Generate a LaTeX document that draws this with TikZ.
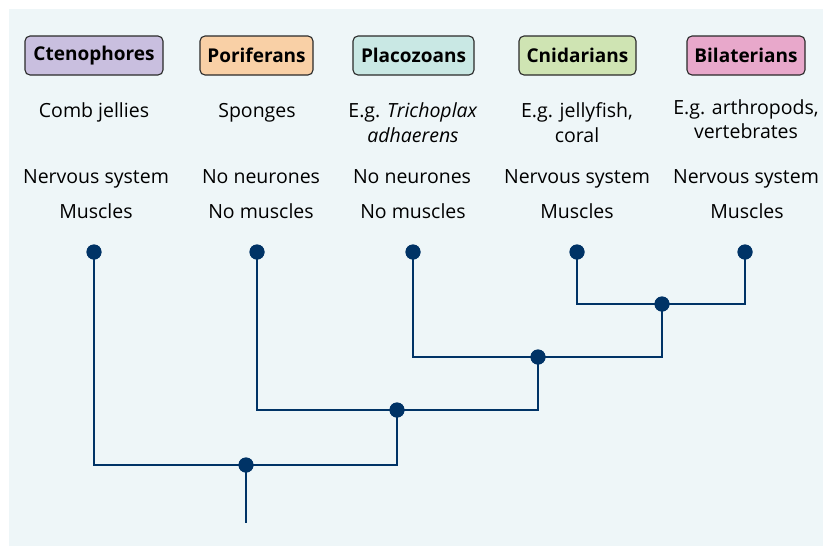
\documentclass[tikz,border=0pt]{standalone}
\usepackage{fontspec}
\setmainfont{Open Sans}
\definecolor{bgc}{HTML}{EEF6F8}
\definecolor{treec}{HTML}{003366}
\definecolor{ctec}{HTML}{C9BFDF}
\definecolor{porc}{HTML}{F9D0A6}
\definecolor{plac}{HTML}{C9E8E4}
\definecolor{cnic}{HTML}{CFE4B3}
\definecolor{bilc}{HTML}{E8A8CB}
\definecolor{boxline}{HTML}{2A2A2A}
\begin{document}
\begin{tikzpicture}[x=1pt,y=-1pt,
  hdr/.style={draw=boxline, line width=1.1pt, rounded corners=5pt, minimum height=39pt, inner sep=0pt, font=\fontsize{19}{22}\selectfont\bfseries, text=black},
  txt/.style={font=\fontsize{19.5}{24.5}\selectfont, align=center, inner sep=0pt, text=black},
  one/.style={txt, text height=14pt, text depth=0pt},
  dot/.style={circle, fill=treec, minimum size=15pt, inner sep=0pt},
  branch/.style={draw=treec, line width=2.5pt}]
\useasboundingbox (0,0) rectangle (831,547);
\fill[bgc] (9,9) rectangle (823,546);
% header boxes
\node[hdr, fill=ctec, minimum width=138pt] (h1) at (94,55.5) {Ctenophores};
\node[hdr, fill=porc, minimum width=113pt] (h2) at (256.5,55.5) {Poriferans};
\node[hdr, fill=plac, minimum width=121pt] (h3) at (413.5,55.5) {Placozoans};
\node[hdr, fill=cnic, minimum width=117pt] (h4) at (577.5,55.5) {Cnidarians};
\node[hdr, fill=bilc, minimum width=118pt] (h5) at (746,55.5) {Bilaterians};
% descriptions
\node[one] (d1) at (94,110) {Comb jellies};
\node[one] (d2) at (257,110) {Sponges};
\node[txt] (d3) at (413,122.5) {E.g. \textit{Trichoplax}\\\textit{adhaerens}};
\node[txt] (d4) at (577,122.5) {E.g. jellyfish,\\coral};
\node[txt] (d5) at (746,119) {E.g. arthropods,\\vertebrates};
% properties
\node[one] (n1) at (96,176) {Nervous system};
\node[one] (n2) at (261,176) {No neurones};
\node[one] (n3) at (412,176) {No neurones};
\node[one] (n4) at (577,176) {Nervous system};
\node[one] (n5) at (746,176) {Nervous system};
\node[one] (m1) at (96,211) {Muscles};
\node[one] (m2) at (261,211) {No muscles};
\node[one] (m3) at (413,211) {No muscles};
\node[one] (m4) at (577,211) {Muscles};
\node[one] (m5) at (747,211) {Muscles};
% tree
\coordinate (r) at (246,523);
\node[dot] (l1) at (94,252) {};
\node[dot] (l2) at (257,252) {};
\node[dot] (l3) at (413,252) {};
\node[dot] (l4) at (577,252) {};
\node[dot] (l5) at (745,252) {};
\node[dot] (i4) at (662,304) {};
\node[dot] (i3) at (538,357) {};
\node[dot] (i2) at (397,410) {};
\node[dot] (i1) at (246,465) {};
\draw[branch] (l4.center) |- (i4.center) -| (l5.center);
\draw[branch] (l3.center) |- (i3.center) -| (i4.center);
\draw[branch] (l2.center) |- (i2.center) -| (i3.center);
\draw[branch] (l1.center) |- (i1.center) -| (i2.center);
\draw[branch] (i1.center) -- (r);
\foreach \n in {l1,l2,l3,l4,l5,i1,i2,i3,i4} \fill[treec] (\n) circle (7.5);
\end{tikzpicture}
\end{document}
